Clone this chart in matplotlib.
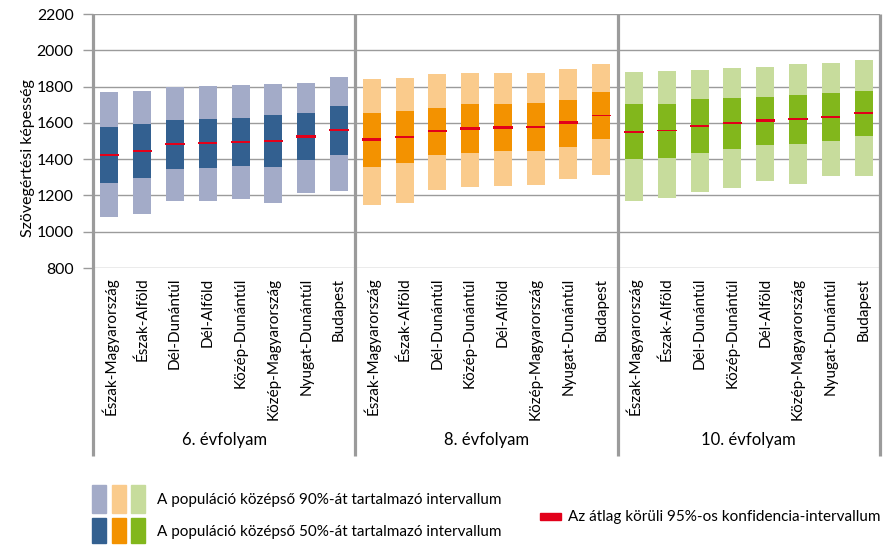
import matplotlib
matplotlib.use("Agg")
import matplotlib.pyplot as plt
from matplotlib.patches import Rectangle
import matplotlib.transforms as mtransforms

plt.rcParams['font.family'] = ['Lato', 'DejaVu Sans']

# Data
regions_6 = ["Észak-Magyarország", "Észak-Alföld", "Dél-Dunántúl", "Dél-Alföld",
             "Közép-Dunántúl", "Közép-Magyarország", "Nyugat-Dunántúl", "Budapest"]
regions_8 = ["Észak-Magyarország", "Észak-Alföld", "Dél-Dunántúl", "Közép-Dunántúl",
             "Dél-Alföld", "Közép-Magyarország", "Nyugat-Dunántúl", "Budapest"]
regions_10 = ["Észak-Magyarország", "Észak-Alföld", "Dél-Dunántúl", "Közép-Dunántúl",
              "Dél-Alföld", "Közép-Magyarország", "Nyugat-Dunántúl", "Budapest"]
grades = ["6. évfolyam", "8. évfolyam", "10. évfolyam"]

# 5%, 25%, mean, 75%, 95% per region, and half width of the 95% CI
p05_6 = [1079, 1099, 1167, 1167, 1178, 1161, 1213, 1226]
p25_6 = [1266, 1294, 1343, 1352, 1360, 1354, 1393, 1424]
mean_6 = [1422, 1444, 1483, 1488, 1494, 1499, 1523, 1560]
p75_6 = [1576, 1596, 1618, 1624, 1629, 1642, 1653, 1694]
p95_6 = [1772, 1778, 1800, 1805, 1811, 1815, 1822, 1853]
ci_6 = [6, 6, 6, 6, 6, 6, 8, 6]

p05_8 = [1147, 1158, 1229, 1246, 1251, 1257, 1290, 1312]
p25_8 = [1356, 1378, 1422, 1433, 1444, 1444, 1466, 1510]
mean_8 = [1508, 1521, 1554, 1569, 1573, 1576, 1600, 1639]
p75_8 = [1657, 1668, 1684, 1706, 1706, 1712, 1728, 1772]
p95_8 = [1844, 1850, 1872, 1877, 1877, 1877, 1899, 1927]
ci_8 = [6, 6, 6, 6, 8, 6, 8, 3]

p05_10 = [1169, 1185, 1218, 1240, 1279, 1262, 1306, 1306]
p25_10 = [1400, 1406, 1433, 1455, 1477, 1483, 1499, 1527]
mean_10 = [1549, 1556, 1582, 1598, 1613, 1620, 1631, 1653]
p75_10 = [1706, 1706, 1734, 1739, 1745, 1756, 1767, 1778]
p95_10 = [1883, 1888, 1894, 1905, 1910, 1927, 1932, 1947]
ci_10 = [6, 3, 6, 6, 6, 6, 6, 6]

light_colors = ["#A3ABC8", "#FACB8C", "#C7DC9C"]
dark_colors = ["#336090", "#F39200", "#82B71C"]
red = "#E2001A"
grid_gray = "#9B9B9B"

fig = plt.figure(figsize=(8.96, 5.55), dpi=100)
ax = fig.add_axes([93 / 896, 1 - 268 / 555, (880 - 93) / 896, (268 - 14) / 555])

groups = [
    (regions_6, p05_6, p25_6, mean_6, p75_6, p95_6, ci_6),
    (regions_8, p05_8, p25_8, mean_8, p75_8, p95_8, ci_8),
    (regions_10, p05_10, p25_10, mean_10, p75_10, p95_10, ci_10),
]

w = 0.55
labels = []
for g, (regs, p05, p25, mn, p75, p95, ci) in enumerate(groups):
    xs = [g * 8 + i for i in range(len(regs))]
    ax.bar(xs, [b - a for a, b in zip(p05, p95)], bottom=p05, width=w,
           color=light_colors[g], zorder=2)
    ax.bar(xs, [b - a for a, b in zip(p25, p75)], bottom=p25, width=w,
           color=dark_colors[g], zorder=3)
    ax.bar(xs, [2 * c for c in ci], bottom=[m - c for m, c in zip(mn, ci)],
           width=w + 0.04, color=red, zorder=4)
    labels += regs

ax.set_xlim(-0.5, 23.5)
ax.set_ylim(800, 2200)
ax.set_yticks(range(800, 2201, 200))
ax.yaxis.grid(True, color=grid_gray, linewidth=1.0, zorder=0)
ax.set_axisbelow(True)
for s in ax.spines.values():
    s.set_visible(False)
ax.tick_params(axis='y', length=7, width=1.0, color=grid_gray, labelsize=11.4, pad=7)
ax.set_xticks(range(24))
ax.set_xticklabels(labels, rotation=90, va='top', ha='center', fontsize=11)
ax.tick_params(axis='x', length=0, pad=7)
ax.set_ylabel("Szövegértési képesség", fontsize=11.5, va='center')
ax.yaxis.set_label_coords(-0.083, 0.433)

# vertical separators, extending below the axis
trans = mtransforms.blended_transform_factory(ax.transData, ax.transAxes)
for xv in [-0.5, 7.5, 15.5, 23.5]:
    ax.plot([xv, xv], [1, -0.74], transform=trans, color=grid_gray,
            linewidth=2.3, clip_on=False, zorder=5, solid_capstyle='butt')
for g, name in enumerate(grades):
    ax.text(g * 8 + 3.5, -0.677, name, transform=trans, ha='center', va='center',
            fontsize=12)

# legend
def fig_rect(x, y, w_, h_, color):
    fig.add_artist(Rectangle((x / 896, 1 - (y + h_) / 555), w_ / 896, h_ / 555,
                             transform=fig.transFigure, color=color))

for i in range(3):
    fig_rect(92 + i * 19.5, 485, 14, 28, light_colors[i])
    fig_rect(92 + i * 19.5, 518, 14, 25, dark_colors[i])
fig.text(157 / 896, 1 - 500 / 555, "A populáció középső 90%-át tartalmazó intervallum",
         fontsize=11, va='center', ha='left')
fig.text(157 / 896, 1 - 532 / 555, "A populáció középső 50%-át tartalmazó intervallum",
         fontsize=11, va='center', ha='left')
fig_rect(540, 513, 21, 7, red)
fig.text(568 / 896, 1 - 517 / 555, "Az átlag körüli 95%-os konfidencia-intervallum",
         fontsize=11, va='center', ha='left')

fig.savefig("out.png", dpi=100)
